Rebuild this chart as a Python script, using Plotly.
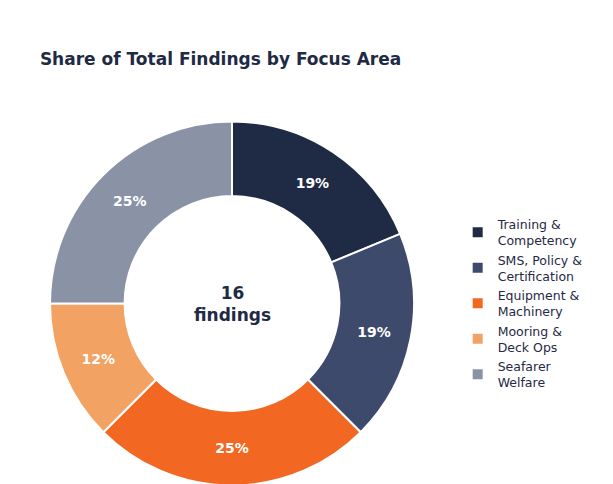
import plotly.graph_objects as go

labels = ["Training &<br>Competency", "SMS, Policy &<br>Certification", "Equipment &<br>Machinery", "Mooring &<br>Deck Ops", "Seafarer<br>Welfare"]
values = [3, 3, 4, 2, 4]
pct_labels = ["19%", "19%", "25%", "12%", "25%"]
colors = ["#1f2a44", "#3d4a6b", "#f26822", "#f2a263", "#8a93a6"]

fig = go.Figure(go.Pie(
    labels=labels, values=values, hole=0.59, sort=False, direction="clockwise", rotation=0,
    marker=dict(colors=colors, line=dict(color="white", width=2)),
    text=pct_labels, textinfo="text", texttemplate="<b>%{text}</b>", textposition="inside",
    insidetextfont=dict(color="white", size=14, family="DejaVu Sans"),
    insidetextorientation="horizontal",
))
fig.update_layout(
    width=613, height=484, paper_bgcolor="white", plot_bgcolor="white",
    font=dict(family="DejaVu Sans", color="#1f2a44"),
    title=dict(text="<b>Share of Total Findings by Focus Area</b>", x=0.052, y=0.907, xanchor="left",
               font=dict(size=17, color="#1f2a44")),
    margin=dict(l=42, r=207, t=112, b=5),
    legend=dict(x=1.12, y=0.5, yanchor="middle", font=dict(size=12.5, color="#1f2a44"), tracegroupgap=4),
    annotations=[dict(text="<b>16<br>findings</b>", x=0.5, y=0.5, xref="paper", yref="paper",
                      showarrow=False, font=dict(size=17, color="#1f2a44"))],
)
fig.write_html("out.html")
